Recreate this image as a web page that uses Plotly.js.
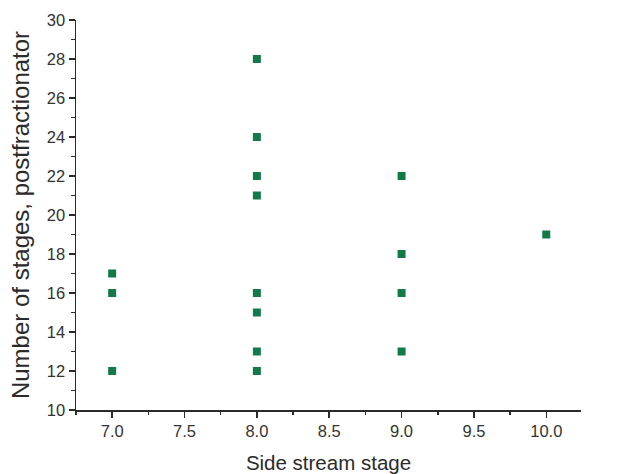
<!DOCTYPE html>
<html>
<head>
<meta charset="utf-8">
<script src="https://cdn.plot.ly/plotly-3.0.1.min.js"></script>
<style>
  html, body { margin: 0; padding: 0; background: #fff; }
  #chart { width: 623px; height: 474px; }
</style>
</head>
<body>
<div id="chart"></div>
<script>
// Side stream stage of each design and the postfractionator stage count
const sideStreamStage = [7, 7, 7, 8, 8, 8, 8, 8, 8, 8, 8, 9, 9, 9, 9, 10];
const postfractionatorStages = [17, 16, 12, 28, 24, 22, 21, 16, 15, 13, 12, 22, 18, 16, 13, 19];

const xTickVals = [7.0, 7.5, 8.0, 8.5, 9.0, 9.5, 10.0];
const xTickText = ['7.0', '7.5', '8.0', '8.5', '9.0', '9.5', '10.0'];
const yTickVals = [10, 12, 14, 16, 18, 20, 22, 24, 26, 28, 30];

const axisColor = '#2a2a2a';
const family = 'Liberation Sans, Arial, sans-serif';
const tickFont = { family: family, size: 16.5, color: '#333' };

const trace = {
  type: 'scatter',
  mode: 'markers',
  x: sideStreamStage,
  y: postfractionatorStages,
  marker: { symbol: 'square', size: 8, color: '#127a47', line: { width: 0 } },
  hoverinfo: 'x+y'
};

const layout = {
  width: 623,
  height: 474,
  margin: { l: 76, r: 42, t: 20, b: 64 },
  paper_bgcolor: '#fff',
  plot_bgcolor: '#fff',
  showlegend: false,
  font: tickFont,
  xaxis: {
    range: [6.75, 10.24],
    tickvals: xTickVals,
    ticktext: xTickText,
    ticks: 'outside',
    ticklen: 6,
    tickwidth: 1.5,
    tickcolor: axisColor,
    showline: true,
    linecolor: axisColor,
    linewidth: 1.5,
    showgrid: false,
    zeroline: false,
    tickfont: tickFont,
    minor: { dtick: 0.25, tick0: 6.75, ticks: 'outside', ticklen: 3.5, tickwidth: 1.5, tickcolor: axisColor, showgrid: false },
    title: { text: 'Side stream stage', font: { family: family, size: 20.5, color: '#2b2b2b' }, standoff: 17 }
  },
  yaxis: {
    range: [10, 30],
    tickvals: yTickVals,
    ticks: 'outside',
    ticklen: 6,
    tickwidth: 1.5,
    tickcolor: axisColor,
    showline: true,
    linecolor: axisColor,
    linewidth: 1.5,
    showgrid: false,
    zeroline: false,
    tickfont: tickFont,
    minor: { dtick: 1, tick0: 10, ticks: 'outside', ticklen: 3.5, tickwidth: 1.5, tickcolor: axisColor, showgrid: false },
    title: { text: 'Number of stages, postfractionator', font: { family: family, size: 24, color: '#2b2b2b' }, standoff: 10 }
  }
};

Plotly.newPlot('chart', [trace], layout, { displayModeBar: false, staticPlot: true });
</script>
</body>
</html>
